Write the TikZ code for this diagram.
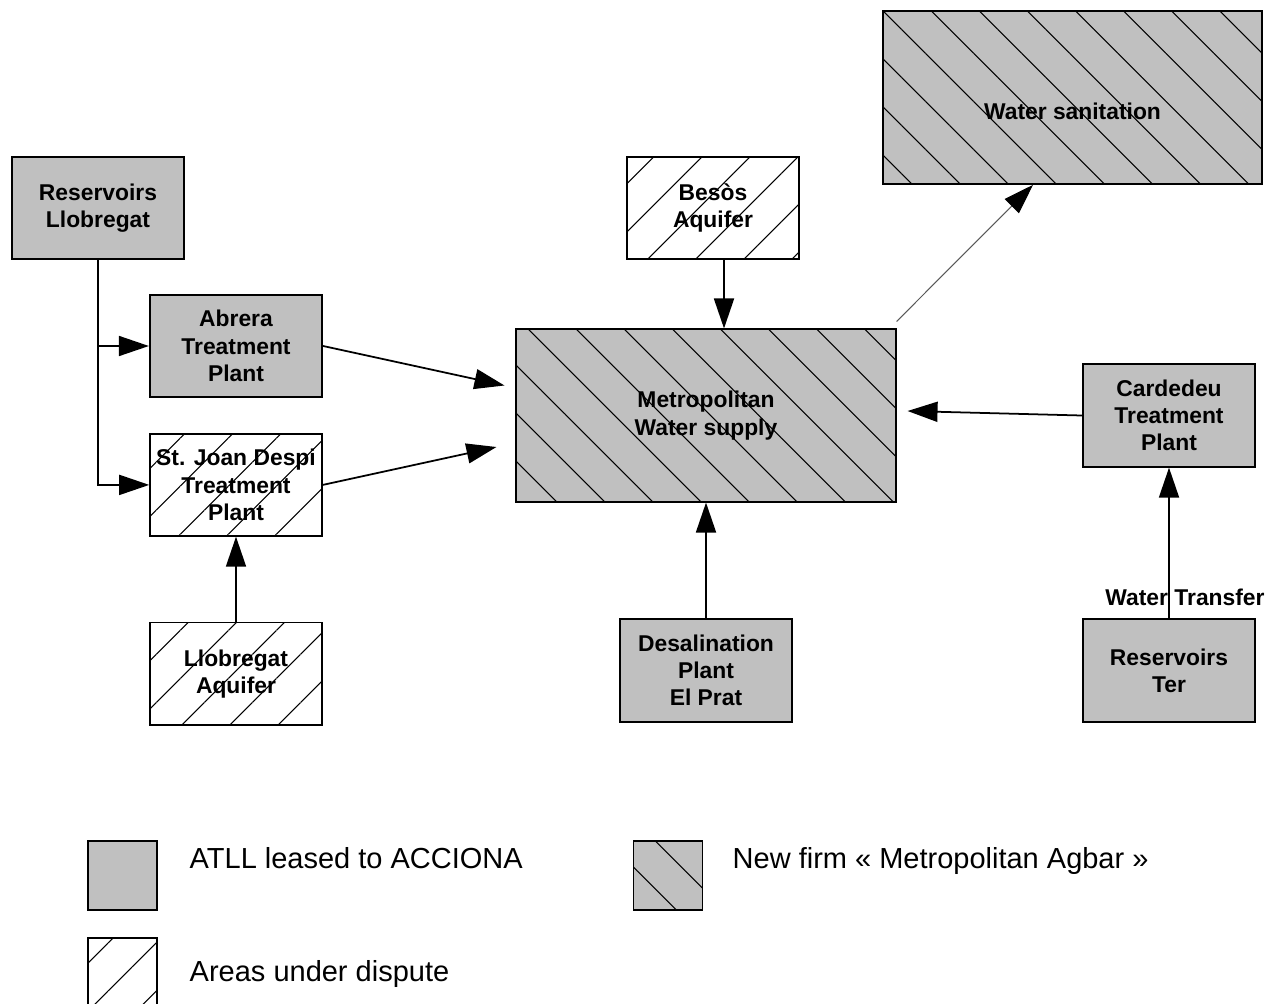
\documentclass[tikz,border=0pt]{standalone}
\usepackage{fontspec}
\setmainfont{Liberation Sans}
\usepackage{xcolor}
\usetikzlibrary{arrows.meta,positioning,patterns.meta}
\definecolor{boxgray}{HTML}{C0C0C0}

\begin{document}
\begin{tikzpicture}[
  >={Triangle[length=0.6cm,width=0.4cm]},
  line width=1pt,
  box/.style={draw, rectangle, align=center, line width=1pt, inner sep=1pt,
              minimum width=3.45cm, minimum height=2.05cm,
              font=\fontsize{13}{15.5}\selectfont\bfseries},
  leased/.style={box, fill=boxgray},
  agbar/.style={box, preaction={fill=boxgray},
                pattern={Lines[angle=-45,distance=0.68cm,line width=0.6pt]}},
  dispute/.style={box,
                  pattern={Lines[angle=45,distance=0.68cm,line width=0.6pt]}},
  legtext/.style={anchor=base west, font=\fontsize{16.5}{20}\selectfont}
]
\useasboundingbox (0,0) rectangle (25.44,-20.06);

% Llobregat side
\node[leased]  (reslleb) at (1.96,-4.16) {Reservoirs\\Llobregat};
\node[leased]  (abrera)  at (4.72,-6.92) {Abrera\\Treatment\\Plant};
\node[dispute] (stjoan)  [below=0.7cm of abrera] {St. Joan Despi\\Treatment\\Plant};
\node[dispute] (llobaq)  [below=1.7cm of stjoan] {Llobregat\\Aquifer};

% centre
\node[dispute] (besos) at (14.26,-4.16) {Besòs\\Aquifer};
\node[agbar, minimum width=7.6cm, minimum height=3.46cm] (metro) at (14.12,-8.31) {Metropolitan\\Water supply};
\node[agbar, minimum width=7.58cm, minimum height=3.46cm, text height=0.87cm, text depth=0cm] (sanit) at (21.45,-1.95) {Water sanitation};
\node[leased]  (desal) at (14.12,-13.41) {Desalination\\Plant\\El Prat};

% Ter side
\node[leased]  (cardedeu) at (23.38,-8.31) {Cardedeu\\Treatment\\Plant};
\node[leased]  (rester)   at (23.38,-13.41) {Reservoirs\\Ter};

% legend
\node[leased,  minimum width=1.38cm, minimum height=1.38cm] (legleased)  at (2.45,-17.51) {};
\node[agbar,   minimum width=1.38cm, minimum height=1.38cm] (legagbar)   at (13.36,-17.51) {};
\node[dispute, minimum width=1.38cm, minimum height=1.38cm] (legdispute) at (2.45,-19.45) {};
\node[legtext] (txtleased)  at (3.66,-17.37)  {ATLL leased to ACCIONA};
\node[legtext] (txtagbar)   at (14.52,-17.37) {New firm « Metropolitan Agbar »};
\node[legtext] (txtdispute) at (3.66,-19.62)  {Areas under dispute};

\draw[->] (reslleb.south) |- (abrera.west);
\draw[->] (reslleb.south) |- (stjoan.west);
\draw[->] (abrera.east) -- ([xshift=-0.22cm,yshift=0.6cm]metro.west);
\draw[->] (stjoan.east) -- ([xshift=-0.38cm,yshift=-0.63cm]metro.west);
\draw[->] (llobaq) -- (stjoan);
\draw[->] ([xshift=0.22cm]besos.south) -- ([xshift=0.22cm]besos.south |- metro.north);
\draw[->] (desal) -- (metro);
\draw[->] (cardedeu.west) -- ([xshift=0.22cm,yshift=0.09cm]metro.east);
\draw[->] (rester) -- node[pos=0.14, xshift=0.32cm, font=\fontsize{13}{15.5}\selectfont\bfseries] (transfer) {Water Transfer} (cardedeu);
\draw[-{Triangle[length=0.6cm,width=0.4cm,black]}, line width=0.6pt, black!65]
  ([yshift=0.14cm]metro.north east) -- ([xshift=-0.79cm]sanit.south);
\end{tikzpicture}
\end{document}
